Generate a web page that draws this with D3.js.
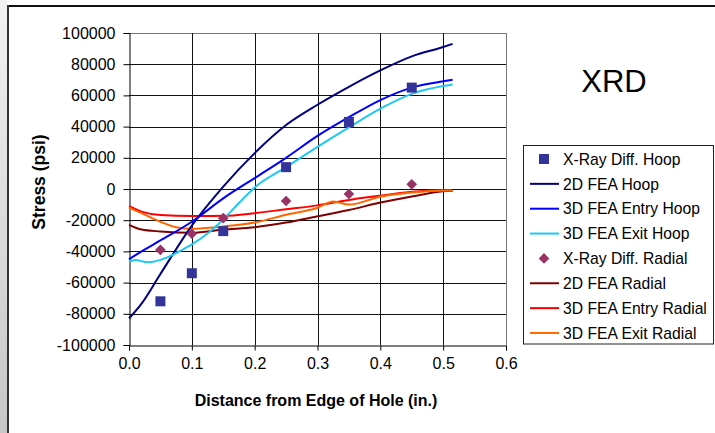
<!DOCTYPE html>
<html>
<head>
<meta charset="utf-8">
<script src="https://cdn.jsdelivr.net/npm/d3@7"></script>
<style>
  body { margin: 0; background: #fff; }
  svg { display: block; font-family: "Liberation Sans", Arial, sans-serif; }
</style>
</head>
<body>
<svg id="chart" width="715" height="433"></svg>
<script>
// x positions (in.) shared by the FEA curves
var feaX = [0, 0.02, 0.05, 0.1, 0.15, 0.2, 0.25, 0.3, 0.35, 0.4, 0.45, 0.5, 0.515];

var hoop2D      = [-83000, -73500, -54500, -23500, 1500, 23000, 41000, 54000, 65500, 76000, 85000, 91000, 93000];
var hoopEntry3D = [-45000, -40000, -33000, -21000, -6000, 7000, 20000, 34000, 46000, 57000, 65000, 69000, 70000];

var exitHoopX  = [0, 0.01, 0.03, 0.06, 0.08, 0.1, 0.125, 0.15, 0.175, 0.2, 0.25, 0.3, 0.35, 0.4, 0.45, 0.5, 0.515];
var hoopExit3D = [-46500, -45500, -47000, -44000, -40000, -35500, -28500, -19500, -9000, 1000, 14000, 27000, 39500, 51500, 61000, 66000, 67000];

var radial2D      = [-23000, -26000, -27200, -28000, -26000, -24500, -21500, -17500, -13500, -8700, -4800, -1500, -1000];
var radialEntry3D = [-11000, -14500, -16700, -17300, -17200, -15500, -13000, -10500, -7000, -4300, -1800, -1000, -1000];

var exitRadialX  = [0, 0.02, 0.05, 0.075, 0.1, 0.15, 0.2, 0.25, 0.3, 0.325, 0.35, 0.4, 0.45, 0.5, 0.515];
var radialExit3D = [-12000, -15500, -21000, -24500, -25500, -24000, -21500, -16500, -12000, -8000, -10000, -5000, -2300, -1000, -1000];

// X-ray diffraction measurements
var xrdX      = [0.05, 0.1, 0.15, 0.25, 0.35, 0.45];
var xrdHoop   = [-72000, -54000, -27000, 14000, 43000, 65000];
var xrdRadial = [-39000, -28700, -18700, -7700, -3200, 3000];

var xTicks = [0, 0.1, 0.2, 0.3, 0.4, 0.5, 0.6];
var yTicks = [-100000, -80000, -60000, -40000, -20000, 0, 20000, 40000, 60000, 80000, 100000];

var legendNames = ["X-Ray Diff. Hoop", "2D FEA Hoop", "3D FEA Entry Hoop", "3D FEA Exit Hoop",
                   "X-Ray Diff. Radial", "2D FEA Radial", "3D FEA Entry Radial", "3D FEA Exit Radial"];

var svg = d3.select("#chart");

// left grey strip + frame
var grad = svg.append("defs").append("linearGradient")
  .attr("id", "strip").attr("x1", 0).attr("y1", 0).attr("x2", 0).attr("y2", 1);
grad.append("stop").attr("offset", "0%").attr("stop-color", "#f2f2f2");
grad.append("stop").attr("offset", "100%").attr("stop-color", "#c6c6c6");
svg.append("rect").attr("x", 0).attr("y", 0).attr("width", 7).attr("height", 433).attr("fill", "url(#strip)");
svg.append("line").attr("x1", 7).attr("x2", 715).attr("y1", 6).attr("y2", 6).attr("stroke", "#111").attr("stroke-width", 2);
svg.append("line").attr("x1", 8).attr("x2", 8).attr("y1", 5).attr("y2", 433).attr("stroke", "#333").attr("stroke-width", 2);

var x = d3.scaleLinear().domain([0, 0.6]).range([129, 506]);
var y = d3.scaleLinear().domain([-100000, 100000]).range([345, 33]);

// grid
var grid = svg.append("g");
grid.selectAll(".gy").data(yTicks.slice(1)).enter().append("line")
  .attr("x1", x(0)).attr("x2", x(0.6))
  .attr("y1", function(d) { return Math.round(y(d)) + 0.5; })
  .attr("y2", function(d) { return Math.round(y(d)) + 0.5; })
  .attr("stroke", function(d) { return d == 100000 ? "#777" : "#111"; });
grid.selectAll(".gx").data(xTicks.slice(1)).enter().append("line")
  .attr("y1", y(100000)).attr("y2", y(-100000))
  .attr("x1", function(d) { return Math.round(x(d)) + 0.5; })
  .attr("x2", function(d) { return Math.round(x(d)) + 0.5; })
  .attr("stroke", function(d) { return d == 0.6 ? "#777" : "#111"; });

// axes
var yAxis = svg.append("g").attr("transform", "translate(129.5,0)")
  .call(d3.axisLeft(y).tickValues(yTicks).tickSize(6).tickPadding(8)
    .tickFormat(function(d) { return String(d); }));
var xAxis = svg.append("g").attr("transform", "translate(0,345.5)")
  .call(d3.axisBottom(x).tickValues(xTicks).tickSize(5).tickPadding(7)
    .tickFormat(function(d) { return d.toFixed(1); }));
[yAxis, xAxis].forEach(function(a) {
  a.select(".domain").attr("stroke", "#000");
  a.selectAll(".tick line").attr("stroke", "#000");
  a.selectAll("text").attr("font-size", 16).attr("fill", "#000")
    .attr("font-family", "Liberation Sans, Arial, sans-serif");
});

svg.append("text").attr("x", 316).attr("y", 406).attr("text-anchor", "middle")
  .attr("font-size", 16).attr("font-weight", "bold").text("Distance from Edge of Hole (in.)");
svg.append("text").attr("transform", "translate(45,182) rotate(-90)").attr("text-anchor", "middle")
  .attr("font-size", 17.5).attr("font-weight", "bold").text("Stress (psi)");

svg.append("text").attr("x", 614).attr("y", 92).attr("text-anchor", "middle")
  .attr("font-size", 31).text("XRD");

// curves
var lines = [
  { xs: feaX, ys: hoop2D, color: "#000080" },
  { xs: feaX, ys: hoopEntry3D, color: "#0000ff" },
  { xs: exitHoopX, ys: hoopExit3D, color: "#1ec8f5" },
  { xs: feaX, ys: radial2D, color: "#800000" },
  { xs: feaX, ys: radialEntry3D, color: "#ff0000" },
  { xs: exitRadialX, ys: radialExit3D, color: "#ff6600" }
];
var lineGen = d3.line()
  .x(function(d) { return x(d[0]); })
  .y(function(d) { return y(d[1]); })
  .curve(d3.curveMonotoneX);
var order = [3, 4, 5, 0, 1, 2];
order.forEach(function(i) {
  var s = lines[i];
  svg.append("path")
    .datum(d3.zip(s.xs, s.ys))
    .attr("d", lineGen)
    .attr("fill", "none")
    .attr("stroke", s.color)
    .attr("stroke-width", 2);
});

// markers
svg.selectAll(".sq").data(d3.zip(xrdX, xrdHoop)).enter().append("rect")
  .attr("x", function(d) { return x(d[0]) - 5; })
  .attr("y", function(d) { return y(d[1]) - 5; })
  .attr("width", 10).attr("height", 10)
  .attr("fill", "#333399");
var diamond = d3.symbol().type(d3.symbolDiamond2).size(72);
svg.selectAll(".dm").data(d3.zip(xrdX, xrdRadial)).enter().append("path")
  .attr("d", diamond)
  .attr("transform", function(d) { return "translate(" + x(d[0]) + "," + y(d[1]) + ")"; })
  .attr("fill", "#993366");

// legend
var lg = svg.append("g");
lg.append("rect").attr("x", 523.5).attr("y", 145.5).attr("width", 190).attr("height", 198.5)
  .attr("fill", "#fff").attr("stroke", "#222");
var legColors = ["#333399", "#000080", "#0000ff", "#1ec8f5", "#993366", "#800000", "#ff0000", "#ff6600"];
legendNames.forEach(function(name, i) {
  var cy = 159 + i * 24.85;
  if (i == 0) {
    lg.append("rect").attr("x", 539).attr("y", cy - 5).attr("width", 10).attr("height", 10).attr("fill", legColors[i]);
  } else if (i == 4) {
    lg.append("path").attr("d", diamond).attr("transform", "translate(544," + cy + ")").attr("fill", legColors[i]);
  } else {
    lg.append("line").attr("x1", 530).attr("x2", 559).attr("y1", cy).attr("y2", cy)
      .attr("stroke", legColors[i]).attr("stroke-width", 2);
  }
  lg.append("text").attr("x", 563).attr("y", cy).attr("dy", "0.36em")
    .attr("font-size", 15.7).text(name);
});
</script>
</body>
</html>
